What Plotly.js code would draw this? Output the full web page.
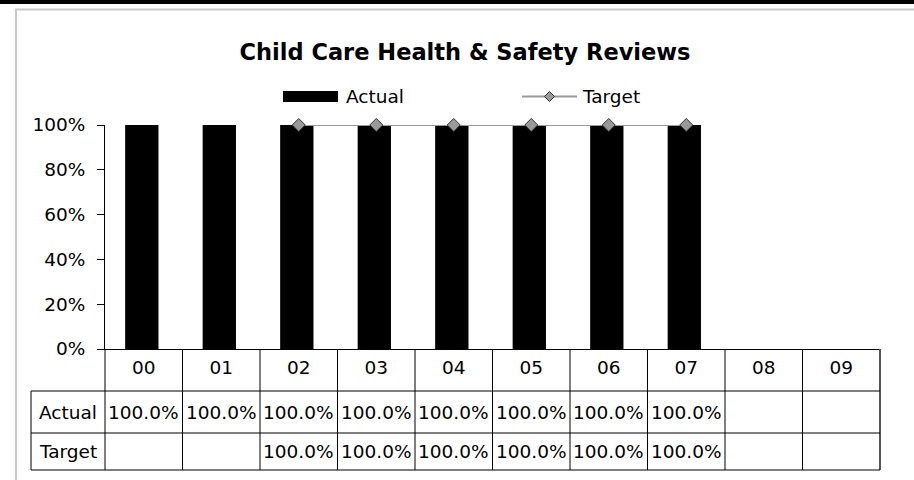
<!DOCTYPE html>
<html>
<head>
<meta charset="utf-8">
<script src="https://cdn.plot.ly/plotly-3.0.1.min.js"></script>
<style>
  html, body { margin: 0; padding: 0; background: #fff; }
  #chart { width: 914px; height: 480px; }
</style>
</head>
<body>
<div id="chart"></div>
<script>
// ---- data ----
var categories = ["00", "01", "02", "03", "04", "05", "06", "07", "08", "09"];
var actualValues = [1.0, 1.0, 1.0, 1.0, 1.0, 1.0, 1.0, 1.0, null, null];
var targetValues = [null, null, 1.0, 1.0, 1.0, 1.0, 1.0, 1.0, null, null];
var seriesNames = ["Actual", "Target"];
var yTickValues = [0, 0.2, 0.4, 0.6, 0.8, 1.0];
var yTickLabels = ["0%", "20%", "40%", "60%", "80%", "100%"];
var chartTitle = "Child Care Health & Safety Reviews";

// ---- layout geometry (pixels) ----
var W = 914, H = 480;
var L = 105, R = 880, T = 125, B = 349;
var pw = R - L, ph = B - T;
function px2x(p) { return (p - L) / pw; }
function py2y(p) { return (B - p) / ph; }

var FONT = "DejaVu Sans";
var fs = 18.5;
var N = categories.length;

var rowTop = 349, row1 = 391, row2 = 433, rowBot = 470, labelLeft = 31;

function fmt(v) { return (v * 100).toFixed(1) + "%"; }

var shapes = [];
var annotations = [];

// frame
shapes.push({type: "rect", xref: "paper", yref: "paper", x0: px2x(0), x1: px2x(W), y0: py2y(0), y1: py2y(4),
  fillcolor: "#000", line: {width: 0}});
shapes.push({type: "line", xref: "paper", yref: "paper", x0: px2x(15), x1: px2x(W), y0: py2y(9.5), y1: py2y(9.5),
  line: {color: "#c8c8c8", width: 2}});
shapes.push({type: "line", xref: "paper", yref: "paper", x0: px2x(16), x1: px2x(16), y0: py2y(9), y1: py2y(H),
  line: {color: "#c8c8c8", width: 2}});

// data table grid
for (var i = 0; i <= N; i++) {
  shapes.push({type: "line", xref: "paper", yref: "paper", x0: i / N, x1: i / N, y0: 0, y1: py2y(rowBot),
    line: {color: (i === N ? "#555" : "#000"), width: (i === N ? 2 : 1)}});
}
[row1, row2, rowBot].forEach(function (r) {
  shapes.push({type: "line", xref: "paper", yref: "paper", x0: px2x(labelLeft), x1: 1, y0: py2y(r), y1: py2y(r),
    line: {color: "#000", width: 1}});
});
shapes.push({type: "line", xref: "paper", yref: "paper", x0: px2x(labelLeft), x1: px2x(labelLeft), y0: py2y(row1), y1: py2y(rowBot),
  line: {color: "#000", width: 1}});

// row labels & cell text
var rowCenters = [(row1 + row2) / 2, (row2 + rowBot) / 2];
var rowData = [actualValues, targetValues];
for (var r = 0; r < 2; r++) {
  annotations.push({xref: "paper", yref: "paper", x: px2x((labelLeft + L) / 2), y: py2y(rowCenters[r]),
    text: seriesNames[r], showarrow: false, xanchor: "center", yanchor: "middle",
    font: {family: FONT, size: fs, color: "#000"}});
  for (var c = 0; c < N; c++) {
    var v = rowData[r][c];
    if (v === null) continue;
    annotations.push({xref: "x", yref: "paper", x: categories[c], y: py2y(rowCenters[r]),
      text: fmt(v), showarrow: false, xanchor: "center", yanchor: "middle",
      font: {family: FONT, size: fs, color: "#000"}});
  }
}

// custom legend
var legY = 96.5;
shapes.push({type: "rect", xref: "paper", yref: "paper", x0: px2x(283), x1: px2x(338), y0: py2y(91), y1: py2y(102),
  fillcolor: "#000", line: {width: 0}});
annotations.push({xref: "paper", yref: "paper", x: px2x(344), y: py2y(legY), text: seriesNames[0], showarrow: false,
  xanchor: "left", yanchor: "middle", font: {family: FONT, size: fs, color: "#000"}});
shapes.push({type: "line", xref: "paper", yref: "paper", x0: px2x(522), x1: px2x(577), y0: py2y(legY), y1: py2y(legY),
  line: {color: "#999", width: 2}});
var dcx = 549.5, dr = 5;
shapes.push({type: "path", xref: "paper", yref: "paper",
  path: "M " + px2x(dcx - dr) + " " + py2y(legY) + " L " + px2x(dcx) + " " + py2y(legY - dr) +
        " L " + px2x(dcx + dr) + " " + py2y(legY) + " L " + px2x(dcx) + " " + py2y(legY + dr) + " Z",
  fillcolor: "#999", line: {color: "#333", width: 1}});
annotations.push({xref: "paper", yref: "paper", x: px2x(580), y: py2y(legY), text: seriesNames[1], showarrow: false,
  xanchor: "left", yanchor: "middle", font: {family: FONT, size: fs, color: "#000"}});

var traces = [
  {type: "bar", name: seriesNames[0], x: categories, y: actualValues,
   marker: {color: "#000", line: {width: 0}}, width: 0.43, offset: -0.24,
   hoverinfo: "x+y", showlegend: false},
  {type: "scatter", mode: "lines+markers", name: seriesNames[1], x: categories, y: targetValues,
   line: {color: "#999", width: 2},
   marker: {symbol: "diamond", size: 10, color: "#999", line: {color: "#333", width: 1}},
   cliponaxis: false, connectgaps: false, showlegend: false}
];

var layout = {
  width: W, height: H,
  margin: {l: L, r: W - R, t: T, b: H - B, pad: 0},
  paper_bgcolor: "#fff", plot_bgcolor: "#fff",
  showlegend: false,
  bargap: 0.57,
  title: {text: "<b>" + chartTitle + "</b>", font: {family: FONT, size: 22.5, color: "#000"},
    xref: "container", x: 465 / W, xanchor: "center", yref: "container", y: 1 - 52 / H, yanchor: "middle"},
  xaxis: {type: "category", range: [-0.5, N - 0.5], showgrid: false, zeroline: false,
    showline: true, linecolor: "#000", linewidth: 1, ticks: "", ticklabelstandoff: 2,
    tickfont: {family: FONT, size: fs, color: "#000"}, fixedrange: true},
  yaxis: {range: [0, 1], tickvals: yTickValues, ticktext: yTickLabels, showgrid: false, zeroline: false,
    showline: true, linecolor: "#000", linewidth: 1, ticks: "outside", ticklen: 7, tickcolor: "#000",
    ticklabelstandoff: 8, tickfont: {family: FONT, size: fs, color: "#000"}, fixedrange: true},
  shapes: shapes,
  annotations: annotations
};

Plotly.newPlot("chart", traces, layout, {displayModeBar: false, staticPlot: false});
</script>
</body>
</html>
